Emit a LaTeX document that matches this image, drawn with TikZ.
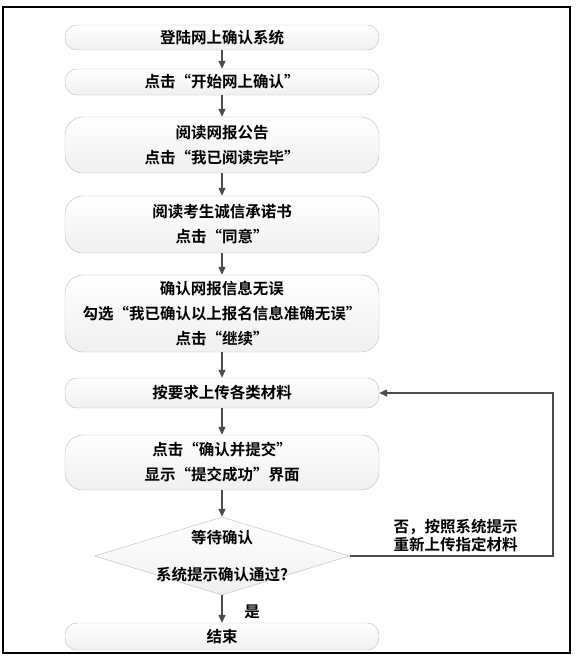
\documentclass[tikz,border=0pt]{standalone}
\usepackage{fontspec}
\newfontfamily\cjk{Noto Sans CJK SC}[BoldFont={Noto Sans CJK SC Bold}]
\usepackage{tikz}
\usetikzlibrary{arrows.meta, shapes.geometric}

\begin{document}
\begin{tikzpicture}[x=1pt, y=-1pt, font=\cjk\bfseries\fontsize{15.5}{25}\selectfont,
  >={Triangle[length=8pt, width=7pt]},
  stepbox/.style={draw=gray!55, rounded corners=12pt, top color=white, bottom color=gray!12,
    minimum width=314pt, inner sep=0pt, align=center},
  tallbox/.style={stepbox, rounded corners=18pt},
  decision/.style={diamond, draw=gray!55, top color=white, bottom color=gray!12,
    minimum width=255pt, minimum height=78pt, inner sep=0pt},
  flow/.style={->, draw=black!70, line width=1.3pt}]
  % Page size and outer frame (pixel coordinates, y grows downwards)
  \useasboundingbox (0,0) rectangle (579,665);
  \draw[line width=1.2pt] (3,7) rectangle (570,653);
  % Main column of steps, all centred on x=222
  \node[stepbox, minimum height=25pt] (login) at (222,37.5) {登陆网上确认系统};
  \node[stepbox, minimum height=26pt] (start) at (222,82) {点击“开始网上确认”};
  \node[tallbox, minimum height=56pt] (notice) at (222,145) {阅读网报公告\\点击“我已阅读完毕”};
  \node[tallbox, minimum height=57pt] (promise) at (222,224.5) {阅读考生诚信承诺书\\点击“同意”};
  \node[tallbox, minimum height=77pt] (verify) at (222,313.5) {确认网报信息无误\\勾选“我已确认以上报名信息准确无误”\\点击“继续”};
  \node[stepbox, minimum height=30pt] (upload) at (222,393) {按要求上传各类材料};
  \node[tallbox, minimum height=55pt] (submit) at (222,462.5) {点击“确认并提交”\\显示“提交成功”界面};
  % Decision: text runs over the diamond edges, so it sits in own nodes
  \node[decision] (check) at (222,556) {};
  \node (checktop) at (222,538) {等待确认};
  \node (checkbot) at (222,575) {系统提示确认通过?};
  \node[stepbox, minimum height=27pt] (finish) at (222,636.5) {结束};
  % Straight arrows down the column
  \draw[flow] (login) -- (start);
  \draw[flow] (start) -- (notice);
  \draw[flow] (notice) -- (promise);
  \draw[flow] (promise) -- (verify);
  \draw[flow] (verify) -- (upload);
  \draw[flow] (upload) -- (submit);
  \draw[flow] (submit) -- (check);
  \draw[flow] (check) -- (finish);
  \node (yeslabel) at (252,612) {是};
  % Loop back to the upload step when the check fails
  \coordinate (loopx) at (553,556);
  \draw[flow] (check.east) -- (loopx) |- (upload.east);
  \node[anchor=west, align=left, font=\cjk\bfseries\fontsize{15.5}{18}\selectfont] (nolabel) at (390,536) {否，按照系统提示\\重新上传指定材料};
\end{tikzpicture}
\end{document}
